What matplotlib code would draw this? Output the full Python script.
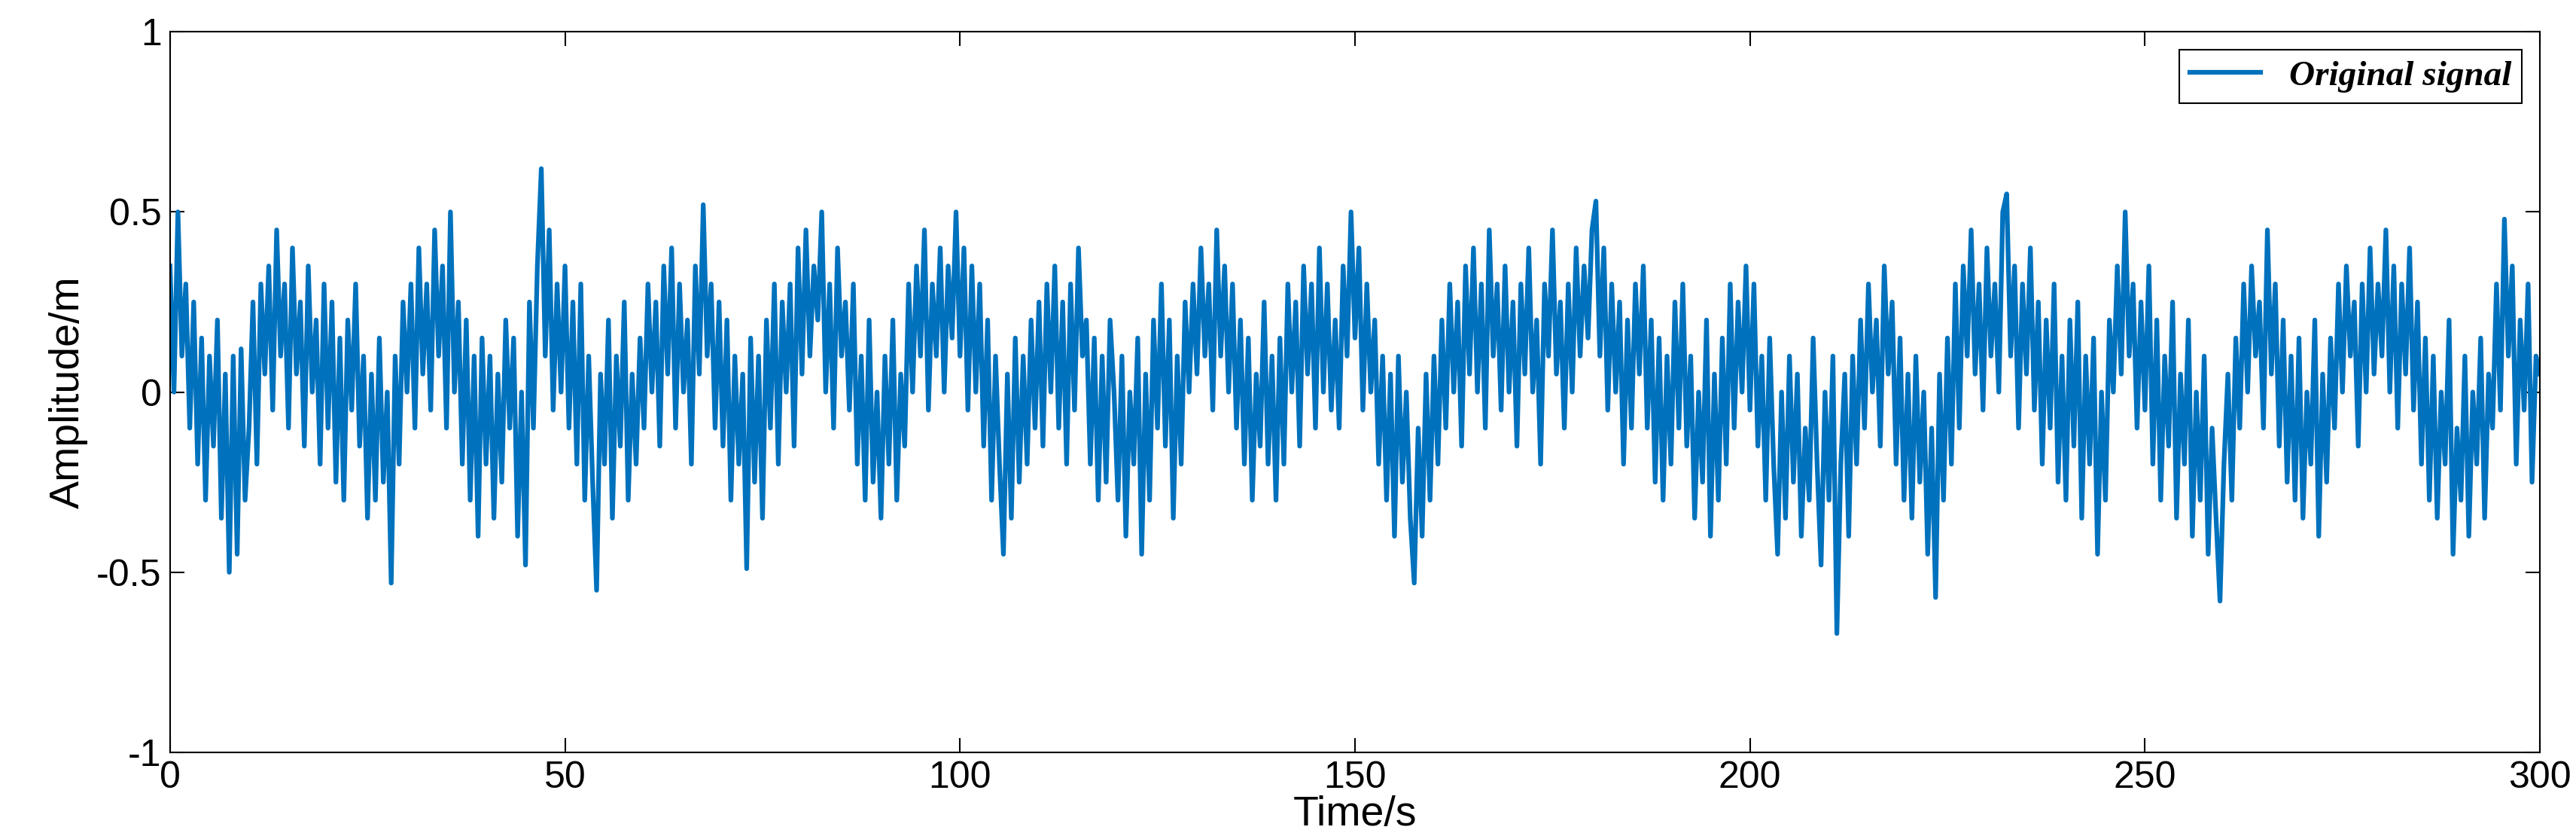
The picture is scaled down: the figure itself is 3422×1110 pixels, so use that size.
import numpy as np
import matplotlib.pyplot as plt

amplitude = [
    0.35, 0.0, 0.5, 0.1, 0.3, -0.1, 0.25, -0.2, 0.15, -0.3, 0.1, -0.15, 0.2, -0.35, 0.05, -0.5, 0.1, -0.45, 0.12, -0.3,
    -0.1, 0.25, -0.2, 0.3, 0.05, 0.35, -0.05, 0.45, 0.1, 0.3, -0.1, 0.4, 0.05, 0.25, -0.15, 0.35, 0.0, 0.2, -0.2, 0.3,
    -0.1, 0.25, -0.25, 0.15, -0.3, 0.2, -0.05, 0.3, -0.15, 0.1, -0.35, 0.05, -0.3, 0.15, -0.25, 0.0, -0.53, 0.1, -0.2, 0.25,
    0.0, 0.3, -0.1, 0.4, 0.05, 0.3, -0.05, 0.45, 0.1, 0.35, -0.1, 0.5, 0.0, 0.25, -0.2, 0.2, -0.3, 0.1, -0.4, 0.15,
    -0.2, 0.1, -0.35, 0.05, -0.25, 0.2, -0.1, 0.15, -0.4, 0.0, -0.48, 0.25, -0.1, 0.35, 0.62, 0.1, 0.45, -0.05, 0.3, 0.0,
    0.35, -0.1, 0.25, -0.2, 0.3, -0.3, 0.1, -0.25, -0.55, 0.05, -0.2, 0.2, -0.35, 0.1, -0.15, 0.25, -0.3, 0.05, -0.2, 0.15,
    -0.1, 0.3, 0.0, 0.25, -0.15, 0.35, 0.05, 0.4, -0.1, 0.3, 0.0, 0.2, -0.2, 0.35, 0.05, 0.52, 0.1, 0.3, -0.1, 0.25,
    -0.15, 0.2, -0.3, 0.1, -0.2, 0.05, -0.49, 0.15, -0.25, 0.1, -0.35, 0.2, -0.1, 0.3, -0.2, 0.25, 0.0, 0.3, -0.15, 0.4,
    0.05, 0.45, 0.1, 0.35, 0.2, 0.5, 0.0, 0.3, -0.1, 0.4, 0.1, 0.25, -0.05, 0.3, -0.2, 0.1, -0.3, 0.2, -0.25, 0.0,
    -0.35, 0.1, -0.2, 0.2, -0.3, 0.05, -0.15, 0.3, 0.0, 0.35, 0.1, 0.45, -0.05, 0.3, 0.1, 0.4, 0.0, 0.35, 0.15, 0.5,
    0.1, 0.4, -0.05, 0.35, 0.0, 0.3, -0.15, 0.2, -0.3, 0.1, -0.2, -0.45, 0.05, -0.35, 0.15, -0.25, 0.1, -0.2, 0.2, -0.1,
    0.25, -0.15, 0.3, 0.0, 0.35, -0.1, 0.25, -0.2, 0.3, -0.05, 0.4, 0.1, 0.2, -0.2, 0.15, -0.3, 0.1, -0.25, 0.2, 0.0,
    -0.3, 0.1, -0.4, 0.0, -0.2, 0.15, -0.45, 0.05, -0.3, 0.2, -0.1, 0.3, -0.15, 0.2, -0.35, 0.1, -0.2, 0.25, 0.0, 0.3,
    0.05, 0.4, 0.1, 0.3, -0.05, 0.45, 0.1, 0.35, 0.0, 0.3, -0.1, 0.2, -0.2, 0.15, -0.3, 0.05, -0.15, 0.25, -0.2, 0.1,
    -0.3, 0.15, -0.2, 0.3, 0.0, 0.25, -0.15, 0.35, 0.05, 0.3, -0.1, 0.4, 0.0, 0.3, -0.05, 0.2, -0.1, 0.35, 0.1, 0.5,
    0.15, 0.4, -0.05, 0.3, 0.0, 0.2, -0.2, 0.1, -0.3, 0.05, -0.4, 0.1, -0.25, 0.0, -0.35, -0.53, -0.1, -0.4, 0.05, -0.3,
    0.1, -0.2, 0.2, -0.1, 0.3, 0.0, 0.25, -0.15, 0.35, 0.05, 0.4, 0.0, 0.3, -0.1, 0.45, 0.1, 0.3, -0.05, 0.35, 0.0,
    0.25, -0.15, 0.3, 0.05, 0.4, 0.0, 0.2, -0.2, 0.3, 0.1, 0.45, 0.05, 0.25, -0.1, 0.3, 0.0, 0.4, 0.1, 0.35, 0.15,
    0.45, 0.53, 0.1, 0.4, -0.05, 0.3, 0.0, 0.25, -0.2, 0.2, -0.1, 0.3, 0.05, 0.35, -0.1, 0.2, -0.25, 0.15, -0.3, 0.1,
    -0.2, 0.25, -0.1, 0.3, -0.15, 0.1, -0.35, 0.0, -0.25, 0.2, -0.4, 0.05, -0.3, 0.15, -0.2, 0.3, -0.1, 0.25, 0.0, 0.35,
    -0.05, 0.3, -0.15, 0.1, -0.3, 0.15, -0.2, -0.45, 0.0, -0.35, 0.1, -0.25, 0.05, -0.4, -0.1, -0.3, 0.15, -0.2, -0.48, 0.0,
    -0.3, 0.1, -0.67, -0.2, 0.05, -0.4, 0.1, -0.2, 0.2, -0.1, 0.3, 0.0, 0.2, -0.15, 0.35, 0.05, 0.25, -0.2, 0.15, -0.3,
    0.05, -0.35, 0.1, -0.25, 0.0, -0.45, -0.1, -0.57, 0.05, -0.3, 0.15, -0.2, 0.3, -0.1, 0.35, 0.1, 0.45, 0.05, 0.3, -0.05,
    0.4, 0.1, 0.3, 0.0, 0.5, 0.55, 0.1, 0.35, -0.1, 0.3, 0.05, 0.4, -0.05, 0.25, -0.2, 0.2, -0.1, 0.3, -0.25, 0.1,
    -0.3, 0.2, -0.15, 0.25, -0.35, 0.1, -0.2, 0.15, -0.45, 0.0, -0.3, 0.2, 0.0, 0.35, 0.05, 0.5, 0.1, 0.3, -0.1, 0.25,
    -0.05, 0.35, -0.2, 0.2, -0.3, 0.1, -0.15, 0.25, -0.35, 0.05, -0.2, 0.2, -0.4, 0.0, -0.3, 0.1, -0.45, -0.1, -0.35, -0.58,
    -0.2, 0.05, -0.3, 0.15, -0.1, 0.3, 0.0, 0.35, 0.1, 0.25, -0.1, 0.45, 0.05, 0.3, -0.15, 0.2, -0.25, 0.1, -0.3, 0.15,
    -0.35, 0.0, -0.2, 0.2, -0.4, 0.05, -0.25, 0.15, -0.1, 0.3, 0.0, 0.35, 0.1, 0.25, -0.15, 0.3, 0.0, 0.4, 0.05, 0.3,
    0.1, 0.45, 0.0, 0.35, -0.1, 0.3, 0.05, 0.4, -0.05, 0.25, -0.2, 0.15, -0.3, 0.1, -0.35, 0.0, -0.2, 0.2, -0.45, -0.1,
    -0.3, 0.1, -0.4, 0.0, -0.2, 0.15, -0.35, 0.05, -0.1, 0.3, -0.05, 0.48, 0.1, 0.35, -0.2, 0.2, -0.05, 0.3, -0.25, 0.1,
    0.05,
]
time = np.linspace(0, 300, len(amplitude))

plt.rcParams['font.family'] = ['Liberation Sans', 'DejaVu Sans']

fig = plt.figure(figsize=(34.22, 11.10), dpi=100)
ax = fig.add_axes([0.066, 0.1, 0.92, 0.862])
ax.plot(time, amplitude, color='#0072BD', linewidth=4.5, label='Original signal')

ax.set_xlim(0, 300)
ax.set_ylim(-1, 1)
ax.set_xticks([0, 50, 100, 150, 200, 250, 300])
ax.set_yticks([-1, -0.5, 0, 0.5, 1])
ax.set_yticklabels(['-1', '-0.5', '0', '0.5', '1'])
ax.tick_params(direction='in', top=True, right=True, labelsize=36, length=14, width=1.5, pad=8)
for s in ax.spines.values():
    s.set_linewidth(1.5)
ax.set_xlabel('Time/s', fontsize=40, labelpad=0)
ax.set_ylabel('Amplitude/m', fontsize=40, labelpad=8)

leg = ax.legend(loc='upper right', prop={'family': 'Liberation Serif', 'weight': 'bold',
                                        'style': 'italic', 'size': 34},
                fancybox=False, edgecolor='black', framealpha=1, handlelength=2.0,
                borderaxespad=0.5, borderpad=0.3)
leg.get_frame().set_linewidth(1.5)

fig.savefig('out.png', dpi=100)
